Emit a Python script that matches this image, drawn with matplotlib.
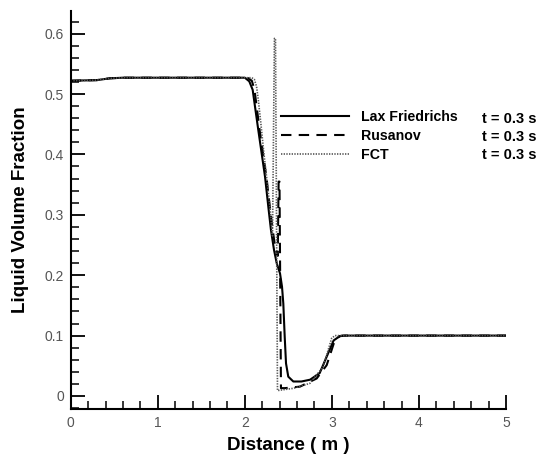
import matplotlib
matplotlib.use("Agg")
import matplotlib.pyplot as plt
from matplotlib import ticker

plt.rcParams['font.family'] = ['Liberation Sans', 'DejaVu Sans']

# Liquid volume fraction profiles at t = 0.3 s
x_lf = [0.0, 0.3, 0.45, 0.6, 2.0, 2.051, 2.09, 2.117, 2.155, 2.193, 2.232, 2.27,
        2.30, 2.335, 2.366, 2.404, 2.427, 2.442, 2.458, 2.473, 2.499, 2.557,
        2.65, 2.75, 2.86, 2.94, 3.02, 3.09, 3.15, 5.0]
y_lf = [0.522, 0.523, 0.526, 0.527, 0.527, 0.521, 0.507, 0.479, 0.440, 0.402, 0.363, 0.313,
        0.275, 0.242, 0.220, 0.203, 0.181, 0.153, 0.098, 0.054, 0.032, 0.024,
        0.024, 0.027, 0.038, 0.065, 0.092, 0.099, 0.100, 0.100]

x_rus = [0.0, 0.3, 0.45, 0.6, 2.03, 2.08, 2.11, 2.135, 2.17, 2.21, 2.25, 2.29,
         2.32, 2.35, 2.378, 2.388, 2.398, 2.415, 2.46, 2.633, 2.825, 2.94,
         3.035, 3.09, 3.12, 5.0]
y_rus = [0.522, 0.523, 0.526, 0.527, 0.527, 0.522, 0.508, 0.480, 0.440, 0.400, 0.360, 0.310,
         0.275, 0.245, 0.232, 0.355, 0.355, 0.013, 0.013, 0.0155, 0.029, 0.051,
         0.093, 0.099, 0.100, 0.100]

x_fct = [0.0, 0.3, 0.45, 0.6, 2.08, 2.11, 2.135, 2.155, 2.185, 2.22, 2.26, 2.29,
         2.318, 2.34, 2.352, 2.375, 2.557, 2.748, 2.90, 2.997, 3.035, 5.0]
y_fct = [0.522, 0.523, 0.526, 0.527, 0.527, 0.524, 0.512, 0.490, 0.450, 0.400, 0.350, 0.310,
         0.265, 0.592, 0.592, 0.009, 0.0127, 0.021, 0.0485, 0.0955, 0.100, 0.100]

series_names = ["Lax Friedrichs", "Rusanov", "FCT"]
time_label = "t = 0.3 s"

fig = plt.figure(figsize=(5.39, 4.54), dpi=100)
ax = fig.add_axes([0.1312, 0.0985, 0.8076, 0.878])

l1, = ax.plot(x_lf, y_lf, color='black', lw=1.5, linestyle='-')
l2, = ax.plot(x_rus, y_rus, color='black', lw=1.5, linestyle=(0, (5, 3.5)))
l3, = ax.plot(x_fct, y_fct, color='#555555', lw=1.2, linestyle=(0, (0.8, 0.8)))

ax.set_xlim(0, 5)
ax.set_ylim(-0.022, 0.638)

for s in ['top', 'right']:
    ax.spines[s].set_visible(False)
for s in ['left', 'bottom']:
    ax.spines[s].set_linewidth(1.5)

ax.xaxis.set_major_locator(ticker.MultipleLocator(1))
ax.xaxis.set_minor_locator(ticker.MultipleLocator(0.2))
ax.yaxis.set_major_locator(ticker.MultipleLocator(0.1))
ax.yaxis.set_minor_locator(ticker.MultipleLocator(0.02))
fmt = ticker.FuncFormatter(lambda v, _: f"{v:g}")
ax.xaxis.set_major_formatter(fmt)
ax.yaxis.set_major_formatter(fmt)
ax.set_yticks([0, 0.1, 0.2, 0.3, 0.4, 0.5, 0.6])

ax.tick_params(which='major', direction='in', length=10, width=1.3,
               labelsize=10, labelcolor='#555555', pad=5)
ax.tick_params(which='minor', direction='in', length=5.5, width=1.1)

ax.set_xlabel("Distance ( m )", fontsize=13.5, fontweight='bold', labelpad=5)
ax.set_ylabel("Liquid Volume Fraction", fontsize=13.5, fontweight='bold', labelpad=11)

leg = ax.legend([l1, l2, l3], series_names, loc='upper left',
                bbox_to_anchor=(281 / 539, 1 - 110 / 454), bbox_transform=fig.transFigure,
                frameon=False, borderpad=0, borderaxespad=0, handlelength=4.8,
                handletextpad=0.85, labelspacing=0.35,
                prop={'family': 'Liberation Sans', 'weight': 'bold', 'size': 10.2})

# time stamps, right-aligned next to each legend entry
for i in range(len(series_names)):
    fig.text(537 / 539, 1 - (119 + 18.2 * i) / 454, time_label, ha='right', va='center',
             fontsize=10.5, fontweight='bold')

fig.savefig("out.png", dpi=100)
